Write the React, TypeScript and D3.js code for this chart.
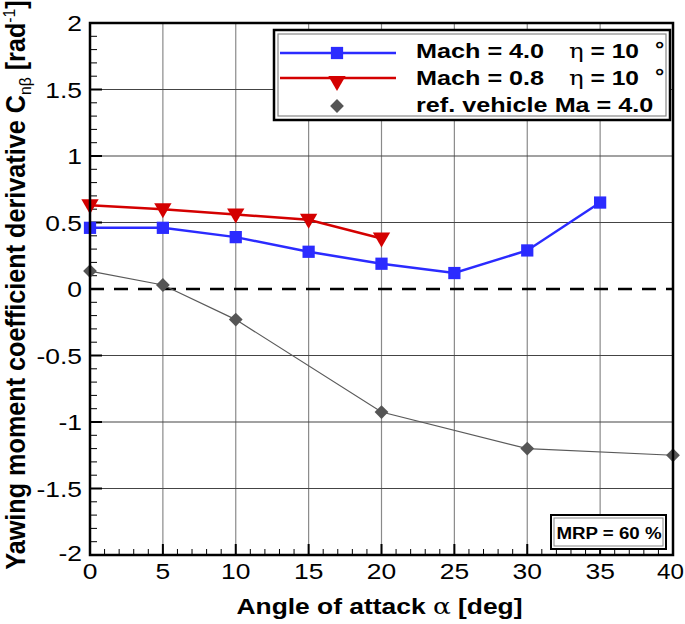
import * as d3 from 'd3';

const alpha4 = [0, 5, 10, 15, 20, 25, 30, 35];
const mach4 = [0.46, 0.46, 0.39, 0.28, 0.19, 0.12, 0.29, 0.65];
const alpha08 = [0, 5, 10, 15, 20];
const mach08 = [0.63, 0.6, 0.56, 0.52, 0.38];
const alphaRef = [0, 5, 10, 20, 30, 40];
const refVehicle = [0.135, 0.03, -0.23, -0.925, -1.2, -1.25];
const xTicks = [0, 5, 10, 15, 20, 25, 30, 35, 40];
const yTicks = [-2, -1.5, -1, -0.5, 0, 0.5, 1, 1.5, 2];

const W = 685;
const H = 624;
const m = { left: 90, right: 12, top: 23, bottom: 69 };
const font = '"Liberation Sans", Arial, Helvetica, sans-serif';
const greek = '"DejaVu Serif", serif';
const STRETCH = 1.2;

// the reference text is drawn a little wide, so stretch it horizontally
const T = ({ x, y, anchor = 'start', size, bold = false, sx = STRETCH, children }) => (
  <g transform={`translate(${x},${y}) scale(${sx},1)`}>
    <text textAnchor={anchor} fontSize={size} fontWeight={bold ? 'bold' : 'normal'}>
      {children}
    </text>
  </g>
);

const App = () => {
  const x = d3.scaleLinear().domain([0, 40]).range([m.left, W - m.right]);
  const y = d3.scaleLinear().domain([-2, 2]).range([H - m.bottom, m.top]);
  const [x0, x1] = x.range();
  const [y0, y1] = y.range();

  const line = d3
    .line<[number, number]>()
    .x((d) => x(d[0]))
    .y((d) => y(d[1]));

  const pts4 = alpha4.map((a, i) => [a, mach4[i]] as [number, number]);
  const pts08 = alpha08.map((a, i) => [a, mach08[i]] as [number, number]);
  const ptsRef = alphaRef.map((a, i) => [a, refVehicle[i]] as [number, number]);

  const square = d3.symbol(d3.symbolSquare, 150)() ?? '';
  const tri = d3.symbol(d3.symbolTriangle, 130)() ?? '';
  const diamond = d3.symbol(d3.symbolSquare, 95)() ?? '';

  const xMinor = d3.range(0, 41, 1).filter((v) => v % 5 !== 0);
  const yMinor = d3.range(-20, 21, 1).filter((v) => v % 5 !== 0).map((v) => v / 10);

  return (
    <svg
      width={W}
      height={H}
      style={{ position: 'absolute', left: 0, top: 0, display: 'block' }}
      fontFamily={font}
    >
      <rect width={W} height={H} fill="#fff" />
      {/* grid */}
      {xTicks.slice(1, -1).map((t) => (
        <line key={'gx' + t} x1={x(t)} x2={x(t)} y1={y0} y2={y1} stroke="#8a8a8a" strokeWidth={1.2} />
      ))}
      {yTicks.slice(1, -1).filter((t) => t !== 0).map((t) => (
        <line key={'gy' + t} x1={x0} x2={x1} y1={y(t)} y2={y(t)} stroke="#444" strokeWidth={1.2} />
      ))}
      <line x1={x0} x2={x1} y1={y(0)} y2={y(0)} stroke="#000" strokeWidth={2.5} strokeDasharray="14 10" />

      {/* ticks */}
      {xTicks.map((t) => (
        <line key={'tx' + t} x1={x(t)} x2={x(t)} y1={y0} y2={y0 - 11} stroke="#000" strokeWidth={2} />
      ))}
      {xMinor.map((t) => (
        <line key={'mx' + t} x1={x(t)} x2={x(t)} y1={y0} y2={y0 - 6} stroke="#000" strokeWidth={1} />
      ))}
      {yTicks.map((t) => (
        <line key={'ty' + t} x1={x0} x2={x0 + 12} y1={y(t)} y2={y(t)} stroke="#000" strokeWidth={2} />
      ))}
      {yMinor.map((t) => (
        <line key={'my' + t} x1={x0} x2={x0 + 7} y1={y(t)} y2={y(t)} stroke="#000" strokeWidth={1} />
      ))}

      {/* series */}
      <path d={line(ptsRef) ?? ''} fill="none" stroke="#5a5a5a" strokeWidth={1.2} />
      <path d={line(pts4) ?? ''} fill="none" stroke="#2b2bff" strokeWidth={2.5} />
      <path d={line(pts08) ?? ''} fill="none" stroke="#d40000" strokeWidth={2.5} />
      {ptsRef.map((p, i) => (
        <path key={'r' + i} d={diamond} transform={`translate(${x(p[0])},${y(p[1])}) rotate(45)`} fill="#555" />
      ))}
      {pts4.map((p, i) => (
        <path key={'b' + i} d={square} transform={`translate(${x(p[0])},${y(p[1])})`} fill="#2b2bff" />
      ))}
      {pts08.map((p, i) => (
        <path key={'t' + i} d={tri} transform={`translate(${x(p[0])},${y(p[1]) - 1}) rotate(180)`} fill="#d40000" />
      ))}

      {/* frame */}
      <rect x={x0} y={y1} width={x1 - x0} height={y0 - y1} fill="none" stroke="#000" strokeWidth={2.5} />

      {/* tick labels */}
      {xTicks.map((t, i) =>
        i === xTicks.length - 1 ? (
          <T key={'lx' + t} x={W - 1} y={y0 + 24} anchor="end" size={22} sx={1.1}>
            {t}
          </T>
        ) : (
          <T key={'lx' + t} x={x(t)} y={y0 + 24} anchor="middle" size={22}>
            {t}
          </T>
        )
      )}
      {yTicks.map((t) => (
        <T key={'ly' + t} x={x0 - 8} y={y(t) + (t === -2 ? 6 : 8)} anchor="end" size={22}>
          {t}
        </T>
      ))}

      {/* axis titles */}
      <T x={(x0 + x1) / 2 - 2} y={614} anchor="middle" size={22} bold>
        Angle of attack <tspan fontWeight="normal" fontFamily={greek}>α</tspan> [deg]
      </T>
      <g transform={`translate(25,${(y0 + y1) / 2 - 4}) rotate(-90) scale(1.05,1.12)`}>
        <text textAnchor="middle" fontSize={24} fontWeight="bold">
          Yawing moment coefficient derivative C
          <tspan fontSize={15} dy={5} fontWeight="normal">nβ</tspan>
          <tspan dy={-5}> [rad</tspan>
          <tspan fontSize={15} dy={-9} fontWeight="normal">-1</tspan>
          <tspan dy={9}>]</tspan>
        </text>
      </g>

      {/* legend */}
      <rect x={274} y={30} width={396} height={90} fill="#fff" stroke="#000" strokeWidth={2.5} />
      <rect x={278} y={34} width={388} height={82} fill="none" stroke="#888" strokeWidth={1.2} />
      <line x1={280} x2={396} y1={53} y2={53} stroke="#2b2bff" strokeWidth={2.5} />
      <path d={square} transform="translate(337,53)" fill="#2b2bff" />
      <line x1={280} x2={396} y1={78} y2={78} stroke="#d40000" strokeWidth={2.5} />
      <path d={tri} transform="translate(337,81) rotate(180)" fill="#d40000" />
      <path d={diamond} transform="translate(337,106) rotate(45)" fill="#555" />
      <T x={416} y={58} size={21} bold>
        Mach = 4.0
      </T>
      <T x={569} y={58} size={21} bold sx={1.17}>
        <tspan fontWeight="normal" fontFamily={greek}>η</tspan> = 10
      </T>
      <T x={655} y={56} size={21} bold sx={1.1}>
        °
      </T>
      <T x={416} y={85} size={21} bold>
        Mach = 0.8
      </T>
      <T x={569} y={85} size={21} bold sx={1.17}>
        <tspan fontWeight="normal" fontFamily={greek}>η</tspan> = 10
      </T>
      <T x={655} y={83} size={21} bold sx={1.1}>
        °
      </T>
      <T x={416} y={112} size={21} bold>
        ref. vehicle Ma = 4.0
      </T>

      {/* MRP box */}
      <rect x={551} y={515} width={115} height={34} fill="#fff" stroke="#000" strokeWidth={2} />
      <rect x={554} y={518} width={109} height={28} fill="none" stroke="#888" strokeWidth={1} />
      <T x={609} y={539} anchor="middle" size={17} bold sx={1.1}>
        MRP = 60 %
      </T>
    </svg>
  );
};

export default App;
